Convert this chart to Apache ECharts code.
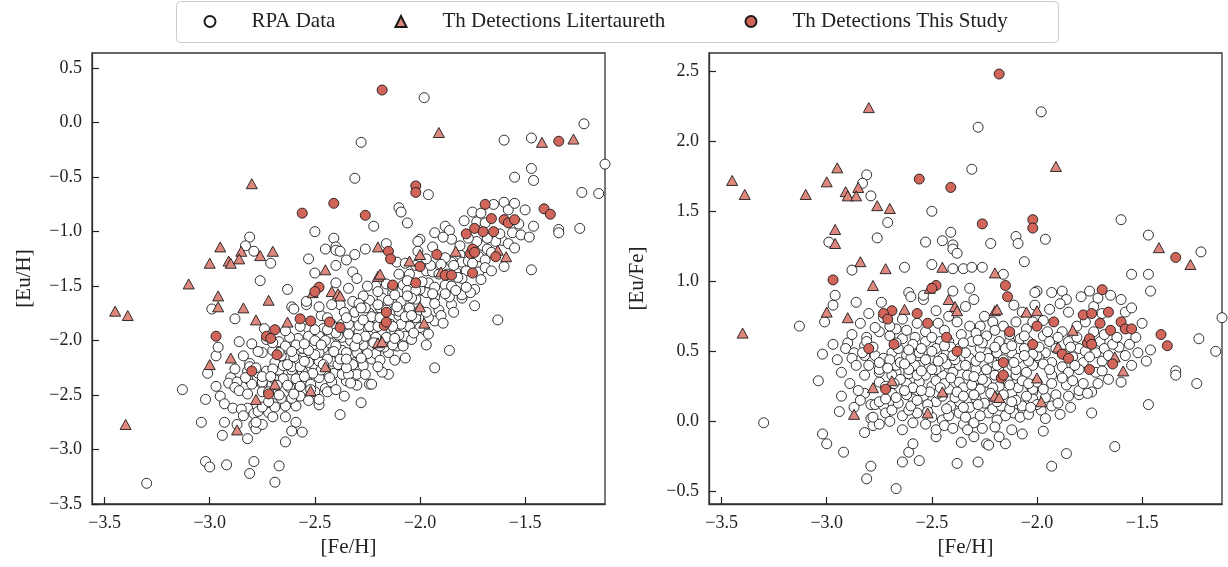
<!DOCTYPE html>
<html>
<head>
<meta charset="utf-8">
<script src="https://cdn.jsdelivr.net/npm/echarts@6/dist/echarts.min.js"></script>
<style>html,body{margin:0;background:#fff}#main{width:1228px;height:567px}</style>
</head>
<body>
<div id="main"></div>
<script>
// RPA stars: [Fe/H] and [Eu/Fe]
var rpaFe = [
  -2.81,-2.83,-2.79,-2.71,-2.76,-2.99,-2.50,-2.53,-2.45,-2.41,
  -2.40,-1.98,-2.28,-2.31,-1.60,-1.47,-2.22,-2.10,-2.09,-1.96,
  -1.22,-1.55,-1.47,-1.46,-2.00,-1.93,-1.88,-1.86,-1.85,-1.79,
  -1.73,-1.69,-1.65,-1.60,-1.58,-1.55,-1.50,-1.61,-1.56,-1.52,
  -1.46,-1.48,-1.23,-1.15,-1.12,-1.34,-1.97,-1.94,-1.96,-1.91,
  -1.85,-1.81,-1.80,-1.83,-1.78,-1.99,-1.93,-1.88,-1.72,-1.70,
  -1.73,-1.69,-1.81,-1.88,-1.77,-1.60,-1.34,-1.24,-1.47,-1.74,
  -1.74,-1.97,-1.86,-1.93,-1.63,-1.98,-1.93,-1.91,-1.85,-1.80,
  -1.93,-1.86,-1.80,-1.76,-2.02,-1.97,-1.94,-1.85,-1.80,-1.72,
  -1.69,-2.03,-2.02,-3.13,-3.02,-2.97,-3.01,-2.97,-2.96,-2.88,
  -2.90,-2.91,-2.87,-2.88,-2.86,-2.81,-2.82,-2.82,-3.04,-2.93,
  -2.94,-2.87,-3.30,-3.02,-3.00,-2.92,-2.82,-2.79,-2.82,-2.79,
  -2.82,-2.79,-2.81,-2.67,-2.64,-2.56,-2.61,-2.59,-2.38,-2.28,
  -2.48,-2.36,-2.30,-2.35,-2.30,-2.24,-2.23,-2.15,-2.18,-2.12,
  -2.07,-2.07,-2.11,-2.78,-2.75,-2.78,-2.77,-2.73,-2.72,-2.64,
  -2.59,-2.50,-2.45,-2.48,-2.44,-2.59,-2.69,-2.62,-2.54,-2.50,
  -2.41,-2.37,-2.32,-2.33,-2.27,-2.23,-2.21,-2.15,-2.08,-2.07,
  -2.02,-2.02,-2.12,-2.10,-2.05,-2.24,-2.37,-2.45,-2.53,-2.61,
  -2.67,-2.75,-2.80,-2.67,-2.56,-2.46,-2.37,-2.31,-2.24,-2.12,
  -2.40,-2.38,-2.63,-2.50,-2.40,-2.35,-2.31,-2.26,-2.06,-2.16,
  -2.61,-2.60,-2.54,-2.54,-2.74,-2.73,-2.67,-2.75,-2.40,-2.32,
  -2.30,-2.11,-2.07,-2.01,-2.01,-2.34,-2.47,-2.53,-2.46,-2.58,
  -2.64,-2.69,-2.81,-2.83,-2.77,-2.73,-2.58,-2.51,-2.43,-2.37,
  -2.31,-2.24,-2.21,-2.16,-2.10,-2.05,-2.02,-2.08,-2.18,-2.24,
  -2.32,-2.43,-2.21,-2.12,-2.04,-2.00,-2.10,-2.56,-2.48,-2.62,
  -2.27,-2.32,-2.38,-2.75,-2.69,-2.56,-2.48,-2.42,-2.29,-2.18,
  -2.15,-2.29,-2.48,-2.56,-2.69,-2.75,-2.45,-2.37,-2.27,-2.05,
  -2.21,-2.75,-2.65,-2.48,-2.40,-2.29,-2.18,-2.27,-2.19,-2.13,
  -2.42,-2.53,-2.61,-2.69,
  -2.66,-2.62,-2.57,-2.52,-2.47,-2.42,-2.39,-2.34,-2.30,-2.25,
  -2.19,-2.17,-2.13,-2.10,-2.04,-2.00,-1.96,-2.61,-2.53,-2.40,
  -2.33,-2.26,-2.20,-2.64,-2.70,-2.67,
  -2.72,-2.65,-2.59,-2.57,-2.51,-2.50,-2.44,-2.41,-2.35,-2.33,
  -2.26,-2.21,-2.20,-2.14,-2.09,-2.07,-2.00,-1.97,-2.16,-2.31,
  -2.70,-2.66,-2.60,-2.59,-2.53,-2.50,-2.45,-2.41,-2.39,-2.34,
  -2.29,-2.26,-2.23,-2.16,-2.15,-2.09,-2.06,-2.02,-2.78,-2.75,
  -2.70,-2.62,-2.57,-2.50,-2.44,-2.36,-2.29,-2.20,-2.13,-2.06,
  -2.64,-2.42,-2.25,-2.48,-2.70,
  -1.95,-1.90,-1.87,-1.84,-1.82,-1.77,-1.75,-1.68,-1.66,-1.64,
  -1.62,-1.58,-1.55,-1.68,-1.93,-1.88,-1.83,-1.78,-1.71,-1.66,
  -1.90,-1.84,-1.96,-1.89,-1.53,-1.75,-1.71,-1.94,-1.89,-1.97,
  -2.95,-2.93,-2.89,-2.85,-2.84,-2.88,-2.84,-2.80,-2.77,-2.86,
  -2.72,-2.68,-2.63,-2.55,-2.46,-2.38,-2.30,-2.22,-2.13,-2.04,
  -2.71,-2.63,-2.55,-2.47,-2.40,-2.34,-2.27,-2.19,-2.11,-2.04,
  -2.67,-2.61,-2.55,-2.44,-2.35,-2.28,-2.20,-2.12,-2.06,-1.99,
  -2.60,-2.52,-2.43,-2.35,-2.28,-2.19,-2.12,-2.03,-2.57,-2.35
];
var rpaEuFe = [
  1.76,1.70,1.61,1.42,1.31,1.28,1.50,1.28,1.29,1.35,
  1.26,2.21,2.10,1.80,1.44,1.33,1.27,1.32,1.27,1.30,
  1.21,1.05,1.05,0.93,0.93,0.92,0.93,0.87,0.78,0.89,
  0.82,0.77,0.90,0.87,0.78,0.81,0.70,0.53,0.55,0.49,
  0.51,0.43,0.59,0.50,0.74,0.36,0.61,0.57,0.49,0.52,
  0.57,0.60,0.52,0.46,0.42,0.45,0.42,0.39,0.49,0.57,
  0.64,0.43,0.68,0.64,0.71,0.28,0.33,0.27,0.12,0.21,
  0.06,-0.07,-0.23,-0.32,-0.18,0.08,0.11,0.19,0.18,0.19,
  0.33,0.26,0.22,0.20,0.40,0.41,0.37,0.35,0.37,0.35,
  0.36,0.25,0.21,0.68,0.48,0.55,0.71,0.83,0.90,1.08,
  0.56,0.52,0.49,0.45,0.40,0.60,0.54,0.47,0.29,0.18,
  0.07,0.10,-0.01,-0.09,-0.16,-0.22,-0.08,0.02,0.20,0.12,
  0.33,-0.32,-0.41,-0.48,-0.29,-0.28,-0.22,-0.16,-0.30,-0.29,
  -0.11,-0.15,-0.11,-0.02,-0.01,-0.16,-0.17,-0.16,-0.11,-0.06,
  -0.09,0.09,0.06,-0.03,-0.02,0.03,0.12,0.11,0.06,0.04,
  -0.01,0.03,0.01,-0.06,-0.03,0.16,0.20,0.27,0.18,0.25,
  0.11,0.14,0.10,0.21,0.23,0.06,0.09,0.04,0.03,0.11,
  0.16,0.23,0.20,0.33,0.35,0.28,0.28,0.33,0.33,0.34,
  0.35,0.35,0.40,0.40,0.40,0.39,0.40,0.37,0.37,0.40,
  1.23,1.20,1.10,1.12,1.09,1.09,1.10,1.10,1.14,1.05,
  0.92,0.89,0.87,0.90,0.85,0.74,0.66,0.64,0.93,0.95,
  0.87,0.83,0.78,0.92,0.83,0.82,0.70,0.64,0.57,0.60,
  0.59,0.49,0.57,0.49,0.47,0.45,0.40,0.45,0.49,0.52,
  0.57,0.61,0.71,0.68,0.71,0.66,0.71,0.59,0.57,0.49,
  0.45,0.41,0.42,0.49,0.57,0.47,0.37,0.49,0.52,0.47,
  0.68,0.68,0.71,0.28,0.33,0.28,0.29,0.23,0.30,0.25,
  0.14,0.16,0.14,0.10,0.08,0.14,0.18,0.06,0.04,0.18,
  0.18,0.37,0.42,0.37,0.35,0.37,0.36,0.52,0.49,0.57,
  0.57,0.57,0.37,-0.61,
  0.13,0.19,0.06,0.12,0.20,0.04,0.17,0.03,0.19,0.13,
  0.01,0.11,0.09,0.15,0.05,0.12,0.17,0.08,-0.02,-0.05,
  -0.06,-0.05,-0.04,-0.06,0.00,0.17,
  0.25,0.30,0.24,0.33,0.21,0.37,0.27,0.31,0.24,0.33,
  0.30,0.24,0.33,0.29,0.24,0.29,0.28,0.23,0.19,0.26,
  0.44,0.52,0.45,0.55,0.44,0.50,0.45,0.53,0.44,0.49,
  0.43,0.56,0.45,0.44,0.52,0.45,0.52,0.48,0.53,0.42,
  0.61,0.65,0.70,0.60,0.65,0.62,0.63,0.65,0.62,0.61,
  0.73,0.75,0.75,0.79,0.68,
  0.64,0.60,0.48,0.53,0.40,0.50,0.46,0.52,0.47,0.55,
  0.60,0.47,0.40,0.62,0.27,0.31,0.29,0.27,0.27,0.30,
  0.13,0.10,0.02,0.05,0.60,0.93,0.88,0.80,0.84,0.72,
  0.44,0.35,0.27,0.22,0.15,0.62,0.70,0.77,0.67,0.85,
  0.16,0.27,0.22,0.22,0.24,0.21,0.32,0.20,0.26,0.27,
  0.38,0.41,0.36,0.43,0.47,0.40,0.46,0.40,0.42,0.43,
  0.56,0.51,0.52,0.54,0.56,0.58,0.53,0.54,0.47,0.53,
  0.11,0.07,0.09,0.10,0.12,0.14,0.14,0.10,0.15,0.18
];

// Th detections from the literature
var litFe = [
  -2.80,-3.45,-3.39,-3.10,-2.95,-3.00,-2.91,-2.90,-2.85,-2.86,
  -2.76,-2.70,-2.96,-2.96,-1.91,-1.42,-1.27,-3.40,-3.00,-2.90,
  -2.84,-2.87,-2.78,-2.69,-2.52,-2.45,-2.20,-2.18,-2.72,-2.45,
  -2.20,-2.78,-2.51,-2.42,-2.39,-2.38,-2.63,-2.20,-2.19,-2.05,
  -2.00,-1.83,-1.90,-1.63,-1.59,-2.00,-1.98
];
var litEuFe = [
  2.24,1.72,1.62,1.62,1.81,1.71,1.64,1.61,1.67,1.61,
  1.54,1.52,1.37,1.27,1.82,1.24,1.12,0.63,0.78,0.74,
  1.14,0.05,0.24,0.29,0.06,0.21,0.18,0.17,1.09,1.10,
  1.06,0.97,0.95,0.87,0.82,0.79,0.80,0.79,0.80,0.78,
  0.79,0.65,0.53,0.46,0.36,0.31,0.14
];

// Th detections, this study
var thisFe = [
  -2.18,-2.56,-2.41,-2.26,-2.02,-2.02,-1.34,-2.97,-2.80,-2.72,
  -2.17,-2.16,-2.16,-2.48,-2.50,-2.69,-2.73,-2.71,-2.57,-2.52,
  -2.43,-2.68,-2.38,-2.15,-2.14,-2.13,-2.02,-1.69,-1.78,-1.74,
  -1.66,-1.70,-1.60,-1.65,-1.58,-1.55,-1.92,-2.00,-1.41,-1.38,
  -1.76,-1.75,-1.74,-1.88,-1.85,-1.64,-1.75
];
var thisEuFe = [
  2.48,1.73,1.67,1.41,1.44,1.38,1.17,1.01,0.52,0.23,
  0.31,0.33,0.42,0.97,0.95,0.79,0.77,0.73,0.77,0.70,
  0.60,0.55,0.50,0.97,0.89,0.64,0.55,0.94,0.76,0.77,
  0.78,0.70,0.71,0.65,0.66,0.66,0.71,0.68,0.62,0.54,
  0.56,0.59,0.55,0.48,0.45,0.41,0.37
];

var FONT = '"Liberation Serif", "DejaVu Serif", serif';

function fmt(v) {
  var s = Math.abs(v).toFixed(1);
  return (v < -1e-9 ? '\u2212' : '') + s;
}
// [Eu/H] = [Eu/Fe] + [Fe/H]
function euH(fe, eufe) {
  return fe.map(function (x, i) { return [x, +(x + eufe[i]).toFixed(2)]; });
}
function euFe(fe, eufe) {
  return fe.map(function (x, i) { return [x, eufe[i]]; });
}

function xAxis(idx) {
  return {
    gridIndex: idx, type: 'value', min: -3.56, max: -1.12, splitNumber: 5,
    name: '[Fe/H]', nameLocation: 'middle', nameGap: 31,
    nameTextStyle: { fontFamily: FONT, fontSize: 21, color: '#222' },
    axisLine: { show: true, onZero: false, lineStyle: { color: '#333', width: 1.3 } },
    axisTick: { inside: true, length: 7, lineStyle: { color: '#222', width: 1.2 } },
    axisLabel: { fontFamily: FONT, fontSize: 18, color: '#222', margin: 10, formatter: fmt,
      showMinLabel: false, showMaxLabel: false },
    splitLine: { show: false }
  };
}
function yAxis(idx, name, min, max, split, showMin, gap) {
  return {
    gridIndex: idx, type: 'value', min: min, max: max, splitNumber: split,
    name: name, nameLocation: 'middle', nameGap: gap, nameRotate: 90,
    nameTextStyle: { fontFamily: FONT, fontSize: 21, color: '#222' },
    axisLine: { show: true, onZero: false, lineStyle: { color: '#333', width: 1.3 } },
    axisTick: { inside: true, length: 7, lineStyle: { color: '#222', width: 1.2 } },
    axisLabel: { fontFamily: FONT, fontSize: 18, color: '#222', margin: 10, formatter: fmt,
      showMinLabel: showMin, showMaxLabel: false },
    splitLine: { show: false }
  };
}
function scatter(name, symbol, size, color, data, idx, z) {
  return {
    name: name, type: 'scatter', xAxisIndex: idx, yAxisIndex: idx,
    symbol: symbol, symbolSize: size, data: data, z: z,
    itemStyle: { color: color, borderColor: '#1a1a1a', borderWidth: 0.9, opacity: 1 },
    emphasis: { disabled: true }
  };
}
function legendAt(x, name) {
  return {
    left: x, top: 11, padding: 0, itemWidth: 11, itemHeight: 11,
    textStyle: { fontFamily: FONT, fontSize: 21, color: '#222', padding: [0, 0, 0, 31] },
    data: [name]
  };
}

var chart = echarts.init(document.getElementById('main'));
var RPA = 'RPA Data', LIT = 'Th Detections Litertaureth', THIS = 'Th Detections This Study';
var WHITE = '#ffffff', TRI = '#de877d', RED = '#d2655a';

chart.setOption({
  animation: false,
  backgroundColor: '#fff',
  graphic: [{
    type: 'rect', left: 176, top: 1, z: -1,
    shape: { width: 882, height: 41, r: 4 },
    style: { fill: '#fff', stroke: '#cccccc', lineWidth: 1 }
  }],
  legend: [legendAt(203.5, RPA), legendAt(394.5, LIT), legendAt(744.5, THIS)],
  grid: [
    { left: 92, top: 53, width: 513, height: 451, show: true, borderColor: '#333', borderWidth: 1.3 },
    { left: 709, top: 53, width: 513, height: 451, show: true, borderColor: '#333', borderWidth: 1.3 }
  ],
  xAxis: [xAxis(0), xAxis(1)],
  yAxis: [
    yAxis(0, '[Eu/H]', -3.5, 0.64, 8, true, 57),
    yAxis(1, '[Eu/Fe]', -0.59, 2.63, 6, false, 61)
  ],
  series: [
    scatter(RPA, 'circle', 10, WHITE, euH(rpaFe, rpaEuFe), 0, 2),
    scatter(LIT, 'triangle', [11, 10], TRI, euH(litFe, litEuFe), 0, 3),
    scatter(THIS, 'circle', 10, RED, euH(thisFe, thisEuFe), 0, 4),
    scatter(RPA, 'circle', 10, WHITE, euFe(rpaFe, rpaEuFe), 1, 2),
    scatter(LIT, 'triangle', [11, 10], TRI, euFe(litFe, litEuFe), 1, 3),
    scatter(THIS, 'circle', 10, RED, euFe(thisFe, thisEuFe), 1, 4)
  ]
});
</script>
</body>
</html>
